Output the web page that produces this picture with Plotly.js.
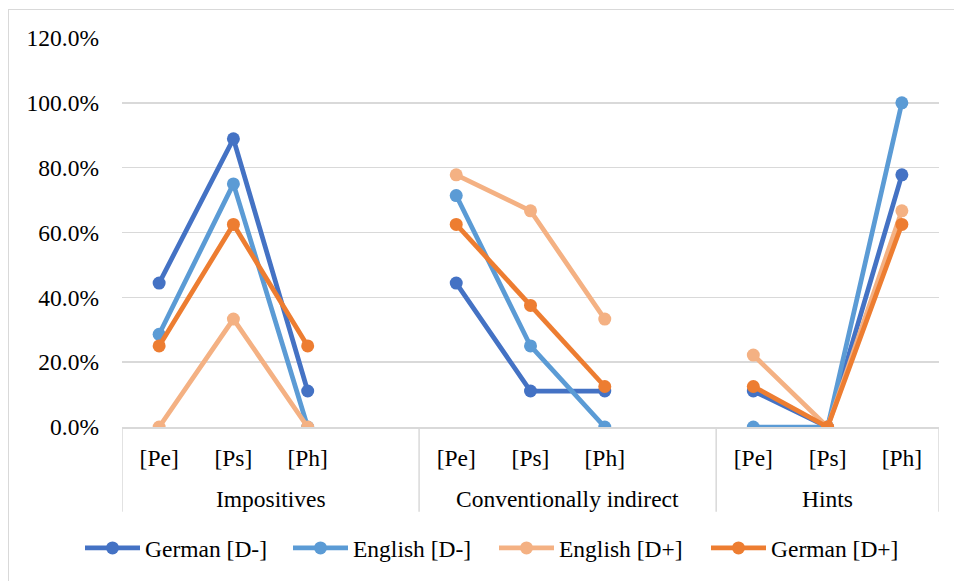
<!DOCTYPE html>
<html>
<head>
<meta charset="utf-8">
<script src="https://cdn.plot.ly/plotly-3.0.1.min.js"></script>
<style>
  html, body { margin: 0; padding: 0; background: #fff; }
  #wrap { position: relative; width: 954px; height: 581px; overflow: hidden; }
  #chart { width: 954px; height: 581px; }
  #frame { position: absolute; left: 8px; top: 9px; right: -4px; bottom: -4px;
           border: 1.5px solid #d9d9d9; pointer-events: none; }
</style>
</head>
<body>
<div id="wrap">
  <div id="chart"></div>
  <div id="frame"></div>
</div>
<script>
// Request strategies grouped by directness; a blank slot separates the groups.
const groups = ["Impositives", "Impositives", "Impositives", "Impositives",
                "Conventionally indirect", "Conventionally indirect", "Conventionally indirect", "Conventionally indirect",
                "Hints", "Hints", "Hints"];
const perspectives = ["[Pe]", "[Ps]", "[Ph]", "",
                      "[Pe]", "[Ps]", "[Ph]", "",
                      "[Pe]", "[Ps]", "[Ph]"];

const germanDminus  = [0.444, 0.889, 0.111, null, 0.444, 0.111, 0.111, null, 0.111, 0.0, 0.778];
const englishDminus = [0.286, 0.750, 0.0,   null, 0.714, 0.250, 0.0,   null, 0.0,   0.0, 1.0];
const englishDplus  = [0.0,   0.333, 0.0,   null, 0.778, 0.667, 0.333, null, 0.222, 0.0, 0.667];
const germanDplus   = [0.250, 0.625, 0.250, null, 0.625, 0.375, 0.125, null, 0.125, 0.0, 0.625];

const seriesNames  = ["German [D-]", "English [D-]", "English [D+]", "German [D+]"];
const seriesValues = [germanDminus, englishDminus, englishDplus, germanDplus];
const seriesColors = ["#4472C4", "#5B9BD5", "#F4B183", "#ED7D31"];

const gridGray = "#d9d9d9";
const font = { family: "Liberation Serif", size: 23.5, color: "#000" };

// Category slots along the x axis
const slots = perspectives.map((_, i) => i);

// Group spans: first/last slot of each consecutive run of the same group name
const spans = [];
groups.forEach((g, i) => {
  const last = spans[spans.length - 1];
  if (last && last.name === g) last.end = i;
  else spans.push({ name: g, start: i, end: i });
});

// One legend per series, laid out in a single row under the axis
const legendKeys = ["legend", "legend2", "legend3", "legend4"];
const legendLeft = [80, 288, 494, 706];

const traces = seriesNames.map((name, i) => ({
  type: "scatter",
  mode: "lines+markers",
  name: name,
  legend: legendKeys[i],
  x: slots,
  y: seriesValues[i],
  connectgaps: false,
  line: { color: seriesColors[i], width: 4.75 },
  marker: { color: seriesColors[i], size: 13 },
  hoverinfo: "skip"
}));

// Group names under the perspective labels
const groupLabels = spans.map(s => ({
  text: s.name,
  xref: "x", x: (s.start + s.end) / 2,
  yref: "paper", y: -0.184,
  xanchor: "center", yanchor: "middle",
  showarrow: false,
  font: font
}));

// Vertical dividers at the group boundaries
const boundaries = [spans[0].start - 0.5].concat(spans.map(s => s.end + 0.5));
const dividers = boundaries.map(b => ({
  type: "line",
  xref: "x", x0: b, x1: b,
  yref: "paper", y0: 0, y1: -0.218,
  line: { color: gridGray, width: 1.5 },
  layer: "below"
}));

const layout = {
  width: 954,
  height: 581,
  margin: { l: 122, r: 15, t: 38, b: 153 },
  paper_bgcolor: "#fff",
  plot_bgcolor: "#fff",
  font: font,
  showlegend: true,
  xaxis: {
    range: [-0.5, slots.length - 0.5],
    tickvals: slots,
    ticktext: perspectives,
    showgrid: false,
    zeroline: false,
    showline: true,
    linecolor: gridGray,
    linewidth: 1.5,
    ticks: "",
    ticklabelstandoff: 9,
    tickfont: font,
    fixedrange: true
  },
  yaxis: {
    range: [0, 1.2],
    dtick: 0.2,
    tickformat: ".1%",
    showgrid: true,
    gridcolor: gridGray,
    gridwidth: 1.5,
    zeroline: false,
    showline: false,
    ticks: "",
    ticklabelstandoff: 22,
    tickfont: font,
    fixedrange: true
  },
  annotations: groupLabels,
  shapes: dividers
};

const plotW = 954 - 122 - 15;
legendKeys.forEach((k, i) => {
  layout[k] = {
    orientation: "h",
    x: (legendLeft[i] - 122) / plotW,
    xanchor: "left",
    y: -0.308,
    yanchor: "middle",
    itemwidth: 55,
    font: font,
    bgcolor: "rgba(0,0,0,0)",
    borderwidth: 0
  };
});

Plotly.newPlot("chart", traces, layout, { staticPlot: true, displayModeBar: false });
</script>
</body>
</html>
